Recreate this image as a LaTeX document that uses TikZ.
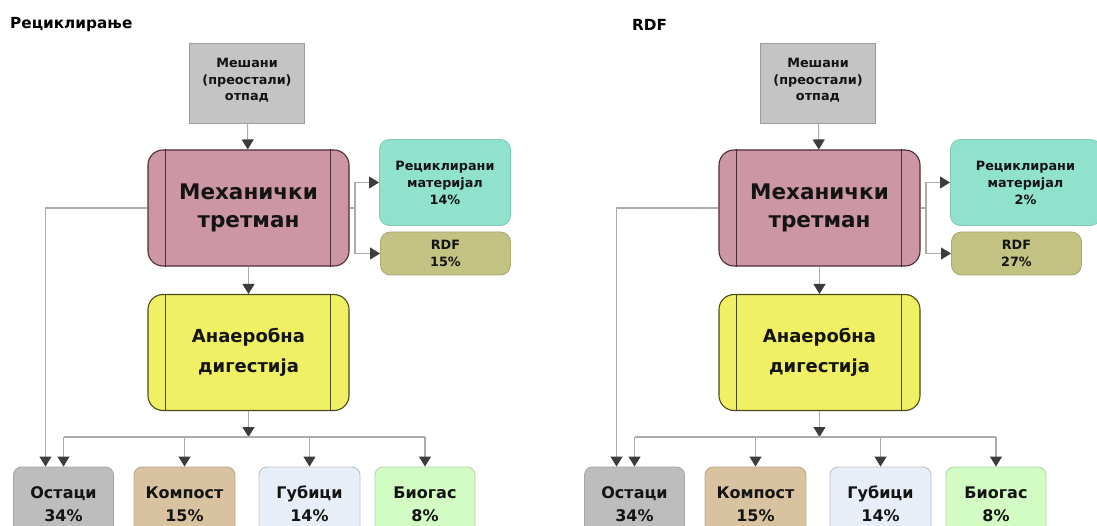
\documentclass[tikz,border=0pt]{standalone}
\usepackage{fontspec}
\setmainfont{DejaVu Sans}
\usetikzlibrary{arrows.meta}

\definecolor{mixfill}{HTML}{C4C4C4}
\definecolor{mixline}{HTML}{9C9C9C}
\definecolor{mechfill}{HTML}{CC96A4}
\definecolor{mechline}{HTML}{4A2C33}
\definecolor{recfill}{HTML}{90E2CC}
\definecolor{recline}{HTML}{7FCBB8}
\definecolor{rdffill}{HTML}{C2C283}
\definecolor{rdfline}{HTML}{A9A972}
\definecolor{adfill}{HTML}{F0F064}
\definecolor{adline}{HTML}{4A4A1A}
\definecolor{resfill}{HTML}{BDBDBD}
\definecolor{resline}{HTML}{A6A6A6}
\definecolor{compfill}{HTML}{D8C2A0}
\definecolor{compline}{HTML}{BBAA8A}
\definecolor{lossfill}{HTML}{E8EEF8}
\definecolor{lossline}{HTML}{B9C1CC}
\definecolor{gasfill}{HTML}{D2FCC4}
\definecolor{gasline}{HTML}{B0D8A4}
\definecolor{linegray}{HTML}{ABABAB}
\definecolor{tipgray}{HTML}{3C3C3C}

\tikzset{
  box/.style={draw, align=center, inner sep=0pt, text=black!92, line width=0.9pt},
  mixbox/.style={box, fill=mixfill, draw=mixline, minimum width=115pt, minimum height=80pt,
    font=\bfseries\fontsize{12.8}{16.5}\selectfont},
  procbox/.style={box, rounded corners=15pt, minimum width=201pt, minimum height=116pt,
    line width=1.1pt},
  mechbox/.style={procbox, fill=mechfill, draw=mechline,
    font=\bfseries\fontsize{21.5}{28}\selectfont},
  adbox/.style={procbox, fill=adfill, draw=adline,
    font=\bfseries\fontsize{18}{30}\selectfont},
  outbox/.style={box, rounded corners=10pt, anchor=west,
    font=\bfseries\fontsize{12.8}{17}\selectfont},
  endbox/.style={box, rounded corners=8pt, minimum height=74pt,
    font=\bfseries\fontsize{16}{23}\selectfont},
  line/.style={draw=linegray, line width=1.1pt},
  conn/.style={line, -{Triangle[width=12pt,length=10pt,color=tipgray]}},
  divider/.style={line width=1pt},
  title/.style={anchor=west, inner sep=0pt, font=\bfseries\fontsize{15.3}{17}\selectfont}
}

% One flow panel: #1 name prefix, #2 recycled share, #3 RDF share, #4 width of the recycled box
\newcommand\wastepanel[4]{%
  \node[mixbox] (#1mix) at (247,83) {Мешани\\(преостали)\\отпад\\[-10pt]};
  \node[mechbox] (#1mech) at (248.5,208) {Механички\\третман};
  \node[adbox] (#1ad) at (248.5,352.5) {Анаеробна\\дигестија};
  \node[outbox, fill=recfill, draw=recline, minimum width=#4, minimum height=86pt]
    (#1rec) at (379,182.5) {Рециклирани\\материјал\\#2};
  \node[outbox, fill=rdffill, draw=rdfline, minimum width=130pt, minimum height=43pt]
    (#1rdf) at (380,253.5) {RDF\\#3};
  \node[endbox, fill=resfill, draw=resline, minimum width=100pt] (#1res) at (63.5,504) {Остаци\\34\%};
  \node[endbox, fill=compfill, draw=compline, minimum width=101pt] (#1comp) at (184.5,504) {Компост\\15\%};
  \node[endbox, fill=lossfill, draw=lossline, minimum width=101pt] (#1loss) at (309.5,504) {Губици\\14\%};
  \node[endbox, fill=gasfill, draw=gasline, minimum width=100pt] (#1gas) at (425,504) {Биогас\\8\%};
  % inner bars of the process boxes
  \draw[divider, draw=mechline] ([xshift=18pt]#1mech.north west) -- ([xshift=18pt]#1mech.south west);
  \draw[divider, draw=mechline] ([xshift=-19pt]#1mech.north east) -- ([xshift=-19pt]#1mech.south east);
  \draw[divider, draw=adline] ([xshift=18pt]#1ad.north west) -- ([xshift=18pt]#1ad.south west);
  \draw[divider, draw=adline] ([xshift=-19pt]#1ad.north east) -- ([xshift=-19pt]#1ad.south east);
  \coordinate (#1bus) at (248.5,437);
  \coordinate (#1fork) at (355,208);
  % connectors
  \draw[conn] (#1mix) -- (#1mech);
  \draw[conn] (#1mech) -- (#1ad);
  \draw[conn] (#1ad) -- (#1bus);
  \draw[line] (#1mech.east) -- (#1fork);
  \draw[conn] (#1fork) |- (#1rec.west);
  \draw[conn] (#1fork) |- (#1rdf.west);
  \draw[conn] (#1mech.west) -| ([xshift=-18pt]#1res.north);
  \draw[line] (#1bus -| #1res.north) -- (#1bus -| #1gas.north);
  \foreach \b in {#1res,#1comp,#1loss,#1gas}
    \draw[conn] (#1bus -| \b.north) -- (\b.north);
}

\begin{document}
\begin{tikzpicture}[x=1pt, y=-1pt]
  \useasboundingbox (0,0) rectangle (1097,526);
  \clip (0,0) rectangle (1097,526);
  \fill[white] (0,0) rectangle (1097,526);

  \node[title] (t1) at (10,25) {Рециклирање};
  \node[title] (t2) at (632,25) {RDF};

  \begin{scope}
    \wastepanel{a}{14\%}{15\%}{131pt}
  \end{scope}
  \begin{scope}[xshift=571pt]
    \wastepanel{b}{2\%}{27\%}{150pt}
  \end{scope}
\end{tikzpicture}
\end{document}
